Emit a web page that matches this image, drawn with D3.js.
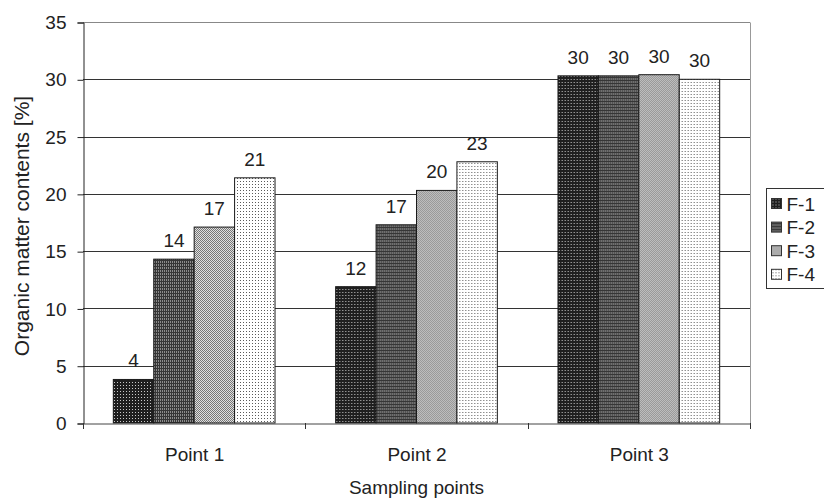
<!DOCTYPE html>
<html>
<head>
<meta charset="utf-8">
<script src="https://cdn.jsdelivr.net/npm/d3@7"></script>
<style>
  html, body { margin: 0; padding: 0; background: #fff; }
  svg text { font-family: "Liberation Sans", Arial, sans-serif; fill: #222; }
</style>
</head>
<body>
<svg id="chart" width="824" height="501"></svg>
<script>
// Sampling points on the x axis
const categories = ["Point 1", "Point 2", "Point 3"];
// Series names (filters)
const seriesNames = ["F-1", "F-2", "F-3", "F-4"];
// Organic matter contents [%] per series, one value per sampling point
const f1 = [3.8, 11.9, 30.3];
const f2 = [14.3, 17.3, 30.3];
const f3 = [17.1, 20.3, 30.4];
const f4 = [21.4, 22.8, 30.0];
const seriesValues = [f1, f2, f3, f4];
// Y axis ticks
const yTicks = [0, 5, 10, 15, 20, 25, 30, 35];

const svg = d3.select("#chart");
const margin = { left: 83, right: 74, top: 22, bottom: 78 };
const W = 824, H = 501;
const x0 = margin.left, x1 = W - margin.right;
const yTop = margin.top, yBot = H - margin.bottom;
const FONT = "Liberation Sans, Arial, sans-serif";

// Fill patterns for the four series
const defs = svg.append("defs");
function pat(id, w, h, bg, cells) {
  const p = defs.append("pattern").attr("id", id)
    .attr("patternUnits", "userSpaceOnUse").attr("width", w).attr("height", h);
  p.append("rect").attr("width", w).attr("height", h).attr("fill", bg);
  cells.forEach(c => p.append("rect").attr("x", c[0]).attr("y", c[1])
    .attr("width", c[2]).attr("height", c[3]).attr("fill", c[4]));
}
pat("pF1", 3, 3, "#1f1f1f", [[1, 1, 1, 1, "#c8c8c8"]]);
pat("pF2", 2, 3, "#363636", [[1, 0, 1, 2, "#8c8c8c"]]);
pat("pF3", 2, 2, "#777777", [[0, 0, 1, 1, "#e0e0e0"], [1, 1, 1, 1, "#e0e0e0"]]);
pat("pF4", 3, 3, "#ffffff", [[1, 1, 1, 1, "#5a5a5a"]]);
const fills = ["url(#pF1)", "url(#pF2)", "url(#pF3)", "url(#pF4)"];

const y = d3.scaleLinear().domain([0, 35]).range([yBot, yTop]);
const xBand = d3.scaleBand().domain(categories).range([x0, x1]).paddingInner(0).paddingOuter(0);
const gap = 1.5; // gap width relative to a bar
const barW = xBand.bandwidth() / (seriesNames.length + gap);
const xSub = d3.scaleBand().domain(seriesNames)
  .range([barW * gap / 2, xBand.bandwidth() - barW * gap / 2]).padding(0);

// Horizontal gridlines
svg.append("g").selectAll("line").data(yTicks.filter(t => t > 0)).join("line")
  .attr("x1", x0).attr("x2", x1)
  .attr("y1", d => Math.round(y(d)) + 0.5).attr("y2", d => Math.round(y(d)) + 0.5)
  .attr("stroke", d => d === 35 ? "#888" : "#333").attr("stroke-width", 1);
// Right border of plot area
svg.append("line").attr("x1", x1 + 0.5).attr("x2", x1 + 0.5)
  .attr("y1", Math.round(y(35)) + 0.5).attr("y2", Math.round(y(0)) + 0.5)
  .attr("stroke", "#999");

// Bars
const groups = svg.append("g").selectAll("g").data(categories).join("g")
  .attr("transform", c => `translate(${xBand(c)},0)`);
groups.selectAll("rect")
  .data((c, ci) => seriesNames.map((s, si) => ({ s, si, v: seriesValues[si][ci] })))
  .join("rect")
  .attr("x", d => xSub(d.s))
  .attr("width", xSub.bandwidth())
  .attr("y", d => y(d.v))
  .attr("height", d => y(0) - y(d.v))
  .attr("fill", d => fills[d.si])
  .attr("stroke", "#1a1a1a").attr("stroke-width", 1);
// Value labels
groups.selectAll("text")
  .data((c, ci) => seriesNames.map((s, si) => ({ s, si, v: seriesValues[si][ci] })))
  .join("text")
  .attr("x", d => xSub(d.s) + xSub.bandwidth() / 2)
  .attr("y", d => y(d.v) - 12)
  .attr("text-anchor", "middle")
  .attr("font-size", 19)
  .text(d => d3.format(".0f")(d.v));

// Y axis
const yAxis = svg.append("g").attr("transform", `translate(${x0 + 0.5},0.5)`)
  .call(d3.axisLeft(y).tickValues(yTicks).tickSize(6).tickPadding(11).tickFormat(d3.format("d")));
yAxis.select(".domain").attr("stroke", "#222");
yAxis.selectAll(".tick line").attr("stroke", "#222");
yAxis.selectAll("text").attr("font-size", 19).attr("fill", "#222").attr("font-family", FONT);

// X axis
const xAxis = svg.append("g").attr("transform", `translate(0.5,${Math.round(yBot) + 0.5})`)
  .call(d3.axisBottom(xBand).tickSize(0).tickPadding(24));
xAxis.select(".domain").attr("stroke", "#444");
xAxis.selectAll("text").attr("font-size", 19).attr("fill", "#222").attr("font-family", FONT);
// Category separator ticks
svg.append("g").selectAll("line").data(d3.range(categories.length + 1)).join("line")
  .attr("x1", i => Math.round(x0 + i * xBand.bandwidth()) + 0.5)
  .attr("x2", i => Math.round(x0 + i * xBand.bandwidth()) + 0.5)
  .attr("y1", yBot).attr("y2", yBot + 6).attr("stroke", "#333");

// Axis titles
svg.append("text").attr("x", (x0 + x1) / 2).attr("y", 494)
  .attr("text-anchor", "middle").attr("font-size", 19).text("Sampling points");
svg.append("text").attr("transform", "translate(29,226) rotate(-90)")
  .attr("text-anchor", "middle").attr("font-size", 21).text("Organic matter contents [%]");

// Legend
const lg = svg.append("g").attr("transform", "translate(766.5,188.5)");
lg.append("rect").attr("width", 70).attr("height", 100)
  .attr("fill", "#fff").attr("stroke", "#333");
const items = lg.selectAll("g").data(seriesNames).join("g")
  .attr("transform", (d, i) => `translate(5,${15 + i * 23.6})`);
items.append("rect").attr("x", 0).attr("y", -5).attr("width", 10).attr("height", 10)
  .attr("fill", (d, i) => fills[i]).attr("stroke", "#333");
items.append("text").attr("x", 15).attr("y", 7).attr("font-size", 19).text(d => d);
</script>
</body>
</html>
